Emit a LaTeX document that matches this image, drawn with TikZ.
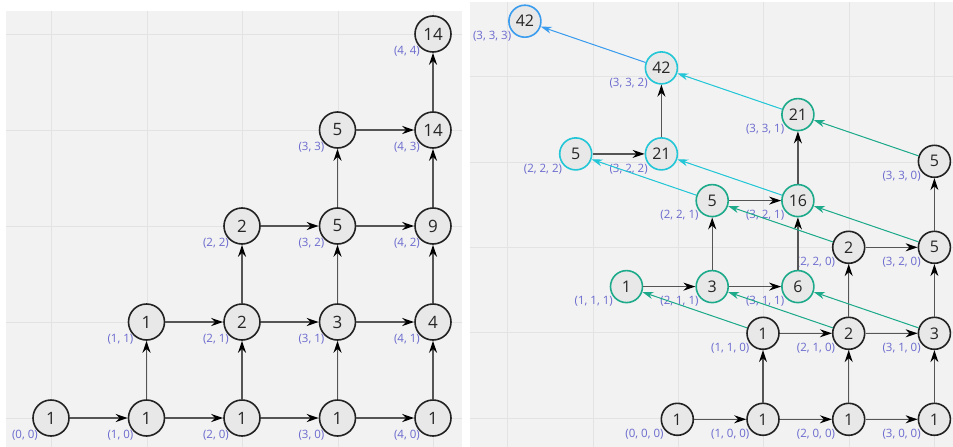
\documentclass[tikz,border=0pt]{standalone}
\usepackage{fontspec}
\setmainfont{Open Sans}
\usetikzlibrary{arrows.meta}
\definecolor{panelbg}{HTML}{F2F2F2}
\definecolor{gridc}{HTML}{E3E3E3}
\definecolor{labc}{HTML}{6A6ACF}
\definecolor{edgec}{HTML}{555555}
\definecolor{tealc}{HTML}{1DAA8B}
\definecolor{cyanc}{HTML}{22C6D6}
\definecolor{bluec}{HTML}{3A9CEE}
\definecolor{nodefill}{HTML}{E8E8E8}
\definecolor{nodeline}{HTML}{222222}
\tikzset{
  bignode/.style={circle,draw=nodeline,fill=nodefill,line width=1.6pt,minimum size=36pt,inner sep=0pt,font=\fontsize{17}{17}\selectfont,text=black!85},
  smallnode/.style={bignode,minimum size=32pt,font=\fontsize{16}{16}\selectfont},
  tealnode/.style={smallnode,draw=tealc},
  cyannode/.style={smallnode,draw=cyanc},
  bluenode/.style={smallnode,draw=bluec},
  coordlab/.style={anchor=east,text=labc,font=\fontsize{11.5}{11.5}\selectfont,inner sep=0pt},
  flow/.style={draw=edgec,line width=1.3pt,-{Stealth[length=12pt,width=8pt,color=black]}},
  zflow/.style={line width=1pt,-{Stealth[length=11pt,width=7pt]}},
  gridline/.style={draw=gridc,line width=0.8pt},
}
\begin{document}
\begin{tikzpicture}[x=1pt,y=-1pt]
\useasboundingbox (0,0) rectangle (953,447);
\fill[white] (0,0) rectangle (953,447);
% panels
\fill[panelbg] (6,11) rectangle (462,447);
\fill[panelbg] (470,2) rectangle (953,447);
\foreach \gx in {51,147,242,338,433} \draw[gridline] (\gx,11) -- (\gx,447);
\foreach \gy in {34,130,226,322,418} \draw[gridline] (6,\gy) -- (462,\gy);
\foreach \gx in {507,593,678,763,849,934} \draw[gridline] (\gx,2) -- (\gx,447);
\foreach \gy in {76,162,247,332,418} \draw[gridline] (470,\gy) -- (953,\gy);

% left panel nodes
\foreach \i/\j/\v in {0/0/1,1/0/1,2/0/1,3/0/1,4/0/1,1/1/1,2/1/2,3/1/3,4/1/4,2/2/2,3/2/5,4/2/9,3/3/5,4/3/14,4/4/14}{
  \pgfmathsetmacro\cx{51+95.5*\i}
  \pgfmathsetmacro\cy{418-96*\j}
  \node[bignode] (L\i\j) at (\cx,\cy) {\v};
  \node[coordlab] (LL\i\j) at (\cx-13,\cy+17) {(\i, \j)};
}
% left edges
\foreach \a/\b in {L00/L10,L10/L20,L20/L30,L30/L40,L11/L21,L21/L31,L31/L41,L22/L32,L32/L42,L33/L43,
                   L10/L11,L20/L21,L30/L31,L40/L41,L21/L22,L31/L32,L41/L42,L32/L33,L42/L43,L43/L44}
  \draw[flow] (\a) -- (\b);

% right panel nodes, layer z=0
\foreach \i/\j/\v in {0/0/1,1/0/1,2/0/1,3/0/1,1/1/1,2/1/2,3/1/3,2/2/2,3/2/5,3/3/5}{
  \pgfmathsetmacro\cx{677.3+85.7*\i}
  \pgfmathsetmacro\cy{419.3-86*\j}
  \node[smallnode] (R\i\j0) at (\cx,\cy) {\v};
  \node[coordlab] (RL\i\j0) at (\cx-13.5,\cy+15) {(\i, \j, 0)};
}
% layer z=1
\foreach \i/\j/\v in {1/1/1,2/1/3,3/1/6,2/2/5,3/2/16,3/3/21}{
  \pgfmathsetmacro\cx{677.3+85.7*\i-136.5}
  \pgfmathsetmacro\cy{419.3-86*\j-46.7}
  \node[tealnode] (R\i\j1) at (\cx,\cy) {\v};
  \node[coordlab] (RL\i\j1) at (\cx-13.5,\cy+15) {(\i, \j, 1)};
}
% layer z=2
\foreach \i/\j/\v in {2/2/5,3/2/21,3/3/42}{
  \pgfmathsetmacro\cx{677.3+85.7*\i-273}
  \pgfmathsetmacro\cy{419.3-86*\j-93.4}
  \node[cyannode] (R\i\j2) at (\cx,\cy) {\v};
  \node[coordlab] (RL\i\j2) at (\cx-13.5,\cy+15) {(\i, \j, 2)};
}
% layer z=3
\foreach \i/\j/\v in {3/3/42}{
  \pgfmathsetmacro\cx{677.3+85.7*\i-409.5}
  \pgfmathsetmacro\cy{419.3-86*\j-140.1}
  \node[bluenode] (R\i\j3) at (\cx,\cy) {\v};
  \node[coordlab] (RL\i\j3) at (\cx-13.5,\cy+15) {(\i, \j, 3)};
}
% in-layer edges
\foreach \a/\b in {R000/R100,R100/R200,R200/R300,R110/R210,R210/R310,R220/R320,
                   R100/R110,R200/R210,R300/R310,R210/R220,R310/R320,R320/R330,
                   R111/R211,R211/R311,R221/R321,R211/R221,R311/R321,R321/R331,
                   R222/R322,R322/R332}
  \draw[flow] (\a) -- (\b);
% between-layer edges
\foreach \a/\b in {R110/R111,R210/R211,R310/R311,R220/R221,R320/R321,R330/R331}
  \draw[zflow,draw=tealc,fill=tealc] (\a) -- (\b);
\foreach \a/\b in {R221/R222,R321/R322,R331/R332}
  \draw[zflow,draw=cyanc,fill=cyanc] (\a) -- (\b);
\draw[zflow,draw=bluec,fill=bluec] (R332) -- (R333);
\end{tikzpicture}
\end{document}
